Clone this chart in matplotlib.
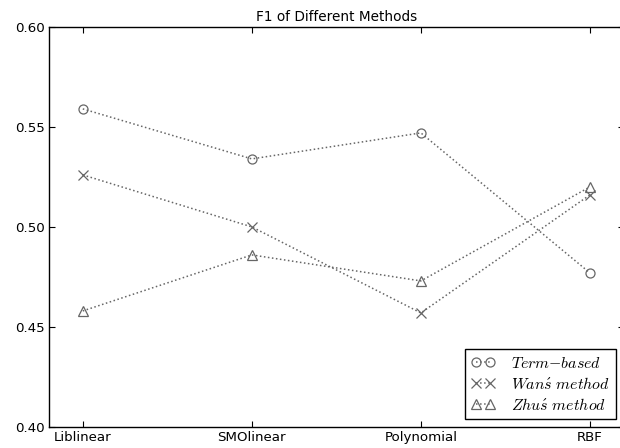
import matplotlib.pyplot as plt

methods = ["Liblinear", "SMOlinear", "Polynomial", "RBF"]
term_based = [0.559, 0.534, 0.547, 0.477]
wan_method = [0.526, 0.500, 0.457, 0.516]
zhu_method = [0.458, 0.486, 0.473, 0.520]

plt.rcParams["mathtext.fontset"] = "cm"
plt.rcParams["font.family"] = "DejaVu Sans"

fig = plt.figure(figsize=(6.2, 4.48), dpi=100)
ax = fig.add_axes([0.079, 0.047, 0.927, 0.893])

x = list(range(len(methods)))
style = dict(color="0.4", linestyle=":", linewidth=1.1, markersize=6.5,
             markerfacecolor="none", markeredgewidth=0.9)
ax.plot(x, term_based, marker="o", label=r"$Term{-}based$", **style)
ax.plot(x, wan_method, marker="x", label=r"$Wan\acute{s}\ method$", **style)
ax.plot(x, zhu_method, marker="^", label=r"$Zhu\acute{s}\ method$", **style)

ax.set_xlim(-0.2, 3.2)
ax.set_ylim(0.40, 0.60)
ax.set_xticks(x)
ax.set_xticklabels(methods)
ax.set_yticks([0.40, 0.45, 0.50, 0.55, 0.60])
ax.tick_params(direction="in", top=True, right=True, length=4, labelsize=9.6, pad=3)
for s in ax.spines.values():
    s.set_linewidth(1.0)
ax.set_title("F1 of Different Methods", fontsize=9.8, pad=4)

leg = ax.legend(loc="lower right", numpoints=2, fontsize=11.4, fancybox=False,
                framealpha=1, edgecolor="black", handlelength=1.5,
                handletextpad=1.0, borderpad=0.4, borderaxespad=0.48,
                labelspacing=0.33)
leg.get_frame().set_linewidth(1.0)

fig.savefig("out.png", dpi=100)
